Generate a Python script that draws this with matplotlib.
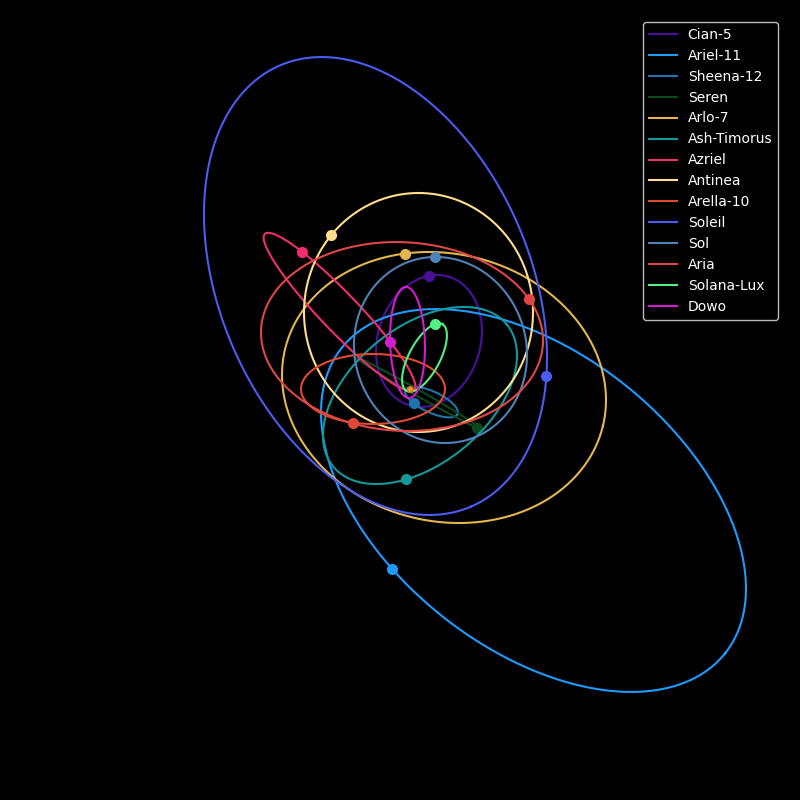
import numpy as np
import matplotlib
matplotlib.use("Agg")
import matplotlib.pyplot as plt

# --------- orbit data (star at origin) ---------- #
names = ["Cian-5", "Ariel-11", "Sheena-12", "Seren", "Arlo-7", "Ash-Timorus", "Azriel",
         "Antinea", "Arella-10", "Soleil", "Sol", "Aria", "Solana-Lux", "Dowo"]
colors = ["#4b0f9e", "#1e9bff", "#1f75ab", "#0b4a1c", "#e3b64e", "#14999a", "#f02e6e",
          "#ffdd8c", "#e04a30", "#4a5cf2", "#4f82b8", "#e04646", "#50f082", "#d41cd0"]

# ellipse centre, semi axes and tilt (deg)
cx = [19, 123.5, 21.5, 9, 34, 10, -70.5, 8.5, -37, -34.5, 30.5, -8, 14.5, -2.5]
cy = [48, -111.5, -13, -4.5, 1.5, -6.5, 77, 76.5, 0, 103, 39, 52.5, 31.5, 46.5]
semi_a = [67.2, 245.1, 28.7, 71.5, 163.5, 112.2, 108, 119.5, 72, 240.4, 93.8, 141.1, 37.9, 55.6]
semi_b = [51.4, 147.4, 10.5, 3, 133.7, 68.3, 19, 114.5, 35, 155.1, 85.7, 94.3, 15.5, 17.4]
tilt = [72.8, -38.6, -24.9, -29.8, -13.6, 39.3, -46.3, 90, 0, -66.5, -71.7, -2.9, 62.1, 91.7]

# where each planet sits right now
planet_x = [19, -17, 3, 67, -5, -4, -105, -77, -57, 135, 25, 119, 26, -20]
planet_y = [113, -178, -15, -38, 136, -90, 141, 153, -33, 12, 132, 90, 63, 47]

fig = plt.figure(figsize=(8, 8), dpi=100, facecolor="black")
ax = fig.add_axes([0, 0, 1, 1])
ax.set_facecolor("black")

t = np.linspace(0, 2 * np.pi, 720)
for i in range(len(names)):
    th = np.radians(tilt[i])
    ex = semi_a[i] * np.cos(t)
    ey = semi_b[i] * np.sin(t)
    x = cx[i] + ex * np.cos(th) - ey * np.sin(th)
    y = cy[i] + ex * np.sin(th) + ey * np.cos(th)
    ax.plot(x, y, color=colors[i], lw=1.5, label=names[i])
    # snap planet onto its orbit
    k = np.argmin((x - planet_x[i]) ** 2 + (y - planet_y[i]) ** 2)
    ax.plot(x[k], y[k], "o", color=colors[i], ms=7)

# the star
ax.plot(0, 0, "o", color="#f5a623", ms=4, mec="#e07020")

ax.set_xlim(-410, 390)
ax.set_ylim(-411, 389)
ax.set_aspect("equal")
ax.axis("off")

leg = ax.legend(loc="upper right", bbox_to_anchor=(0.981, 0.981), facecolor="black",
                labelcolor="white", framealpha=1)
leg.get_frame().set_edgecolor("#bbbbbb")

fig.savefig("out.png", dpi=100, facecolor="black")
